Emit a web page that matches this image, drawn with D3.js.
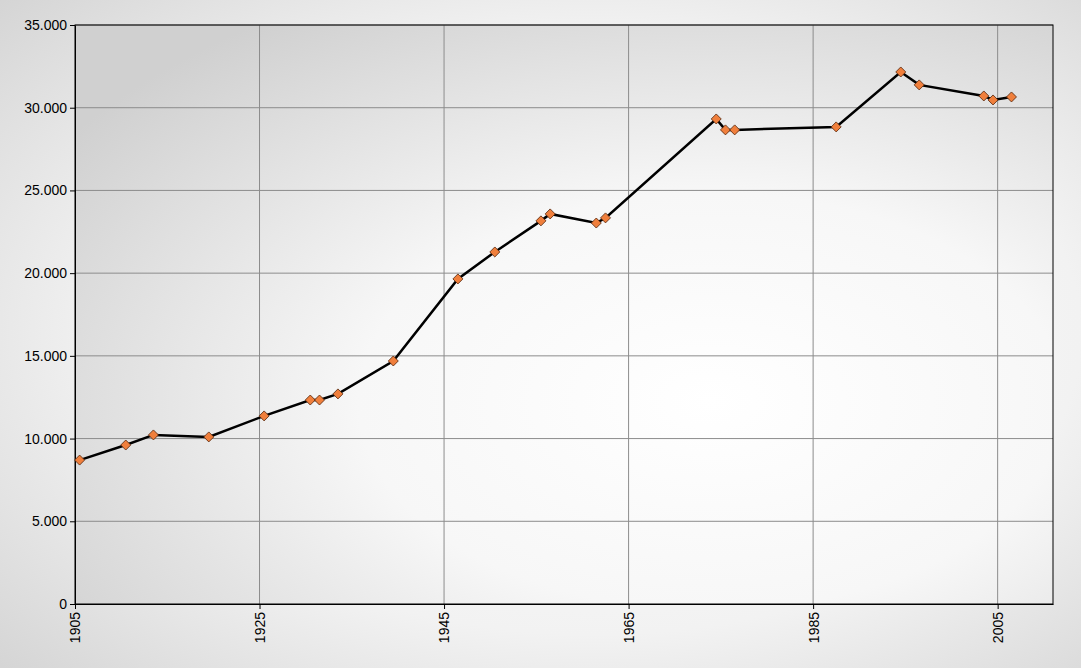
<!DOCTYPE html>
<html><head><meta charset="utf-8">
<script src="https://cdn.jsdelivr.net/npm/d3@7"></script>
<style>html,body{margin:0;padding:0;overflow:hidden}</style>
</head><body>
<svg id="c" width="1081" height="668"></svg>
<script>
const years = [1905,1910,1913,1919,1925,1930,1931,1933,1939,1946,1950,1955,1956,1961,1962,1974,1975,1976,1987,1994,1996,2003,2004,2006];
const values = [8700,9610,10220,10100,11370,12330,12330,12700,14690,19650,21280,23160,23580,23030,23340,29320,28660,28660,28840,32160,31380,30710,30470,30650];
const xTickLabels = ["1905","1925","1945","1965","1985","2005"];
const yTicks = [0,5000,10000,15000,20000,25000,30000,35000];

const svg = d3.select("#c");
const W=1081,H=668, L=75,R=1053,T=25,B=604;
const defs = svg.append("defs");
const bg = defs.append("radialGradient").attr("id","bg").attr("cx","55%").attr("cy","50%").attr("r","75%");
bg.append("stop").attr("offset","0%").attr("stop-color","#ffffff");
bg.append("stop").attr("offset","60%").attr("stop-color","#f2f2f2");
bg.append("stop").attr("offset","100%").attr("stop-color","#d4d4d4");
svg.append("rect").attr("width",W).attr("height",H).attr("fill","url(#bg)");
const pg = defs.append("radialGradient").attr("id","pg").attr("cx","65%").attr("cy","65%").attr("r","80%");
pg.append("stop").attr("offset","0%").attr("stop-color","#ffffff");
pg.append("stop").attr("offset","45%").attr("stop-color","#f7f7f7");
pg.append("stop").attr("offset","100%").attr("stop-color","#d0d0d0");
svg.append("rect").attr("x",L).attr("y",T).attr("width",R-L).attr("height",B-T).attr("fill","url(#pg)");

const x = d3.scaleLinear().domain([1904.5,2010.5]).range([L,R]);
const y = d3.scaleLinear().domain([0,35000]).range([B,T]);
const fmt = v => d3.format(",")(v).replace(/,/g,".");
const xt = xTickLabels.map(s=>+s-0.5);

svg.append("g").selectAll("line").data(yTicks.slice(1)).join("line")
 .attr("x1",L).attr("x2",R).attr("y1",d=>y(d)).attr("y2",d=>y(d)).attr("stroke","#8c8c8c").attr("stroke-width",1);
svg.append("g").selectAll("line").data(xt.slice(1)).join("line")
 .attr("y1",T).attr("y2",B).attr("x1",d=>x(d)).attr("x2",d=>x(d)).attr("stroke","#8c8c8c").attr("stroke-width",1);
svg.append("rect").attr("x",L).attr("y",T).attr("width",R-L).attr("height",B-T).attr("fill","none").attr("stroke","#000").attr("stroke-width",1);

const ya = svg.append("g").attr("transform",`translate(${L},0)`)
 .call(d3.axisLeft(y).tickValues(yTicks).tickFormat(fmt).tickSize(5).tickSizeOuter(0));
ya.select(".domain").attr("stroke","#000");
ya.selectAll("text").attr("font-family","Arial, Liberation Sans").attr("font-size",14).attr("fill","#000");
const xa = svg.append("g").attr("transform",`translate(0,${B})`)
 .call(d3.axisBottom(x).tickValues(xt).tickFormat((d,i)=>xTickLabels[i]).tickSize(5).tickSizeOuter(0));
xa.select(".domain").attr("stroke","#000");
xa.selectAll("text").attr("font-family","Arial, Liberation Sans").attr("font-size",14).attr("fill","#000")
 .attr("transform","rotate(-90)").attr("text-anchor","end").attr("dx","-8").attr("dy","0.35em").attr("x",0).attr("y",0);

const data = years.map((yr,i)=>({yr,v:values[i]}));
svg.append("path").datum(data).attr("fill","none").attr("stroke","#000").attr("stroke-width",2.5)
 .attr("d",d3.line().x(d=>x(d.yr)).y(d=>y(d.v)));
svg.append("g").selectAll("path").data(data).join("path")
 .attr("d",d3.symbol(d3.symbolSquare,50)())
 .attr("transform",d=>`translate(${x(d.yr)},${y(d.v)}) rotate(45)`)
 .attr("fill","#f07f3c").attr("stroke","#5a2a10").attr("stroke-width",0.8);
</script></body></html>
